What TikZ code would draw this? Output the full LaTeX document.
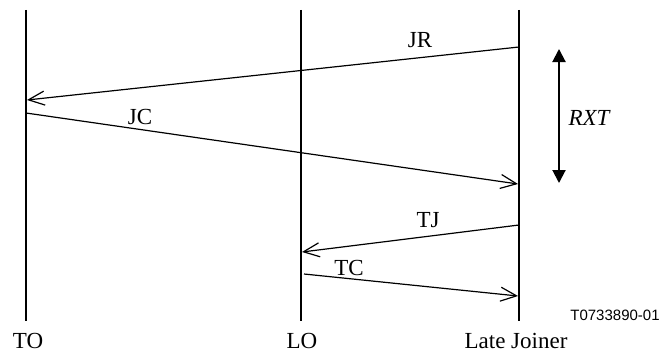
\documentclass[tikz,border=0pt]{standalone}
\usepackage{fontspec}
\setmainfont{Liberation Serif}
\newfontfamily\figfont{Liberation Sans}
\usetikzlibrary{arrows.meta}
\tikzset{
  lifeline/.style={line width=2.4pt},
  thinlife/.style={line width=1.2pt},
  msgarrow/.style={-{Straight Barb[length=16pt,width=14pt,line width=1.2pt]}, line width=1.2pt},
  msglabel/.style={anchor=base, inner sep=0pt, font=\fontsize{23}{27}\selectfont},
  spanarrow/.style={{Triangle[length=13pt,width=13pt]}-{Triangle[length=13pt,width=13pt]}, line width=2pt}
}

\begin{document}
\begin{tikzpicture}[x=1pt, y=-1pt]
  \useasboundingbox (0,0) rectangle (663,353);
  % lifelines
  \coordinate (to top) at (26,10);   \coordinate (to bot) at (26,321);
  \coordinate (lo top) at (301,10);  \coordinate (lo bot) at (301,321);
  \coordinate (lj top) at (519,10);  \coordinate (lj bot) at (519,321);
  \draw[lifeline] (to top) -- (to bot);
  \draw[thinlife] (lo top) -- (lo bot);
  \draw[lifeline] (lj top) -- (lj bot);
  \node[msglabel] (to) at (28,348) {TO};
  \node[msglabel] (lo) at (302,348) {LO};
  \node[msglabel] (lj) at (516,348) {Late Joiner};

  % message end points
  \coordinate (jr start) at (519,47);  \coordinate (jr end) at (27,100);
  \coordinate (jc start) at (26,113);  \coordinate (jc end) at (518,184);
  \coordinate (tj start) at (519,225); \coordinate (tj end) at (302,252);
  \coordinate (tc start) at (304,274); \coordinate (tc end) at (518,296);
  \draw[msgarrow] (jr start) -- (jr end);
  \draw[msgarrow] (jc start) -- (jc end);
  \draw[msgarrow] (tj start) -- (tj end);
  \draw[msgarrow] (tc start) -- (tc end);
  \node[msglabel] (jr) at (420,48) {JR};
  \node[msglabel] (jc) at (140,124) {JC};
  \node[msglabel] (tj) at (428,227) {TJ};
  \node[msglabel] (tc) at (349,275) {TC};

  % retransmission timer
  \coordinate (rxt top) at (559,49);
  \coordinate (rxt bot) at (559,183);
  \draw[spanarrow] (rxt top) -- (rxt bot);
  \node[msglabel, font=\fontsize{23}{27}\selectfont\itshape] (rxt) at (589,125) {RXT};

  \node[anchor=base, inner sep=0pt, font=\figfont\fontsize{15}{18}\selectfont] (figid) at (615,320) {T0733890-01};
\end{tikzpicture}
\end{document}
